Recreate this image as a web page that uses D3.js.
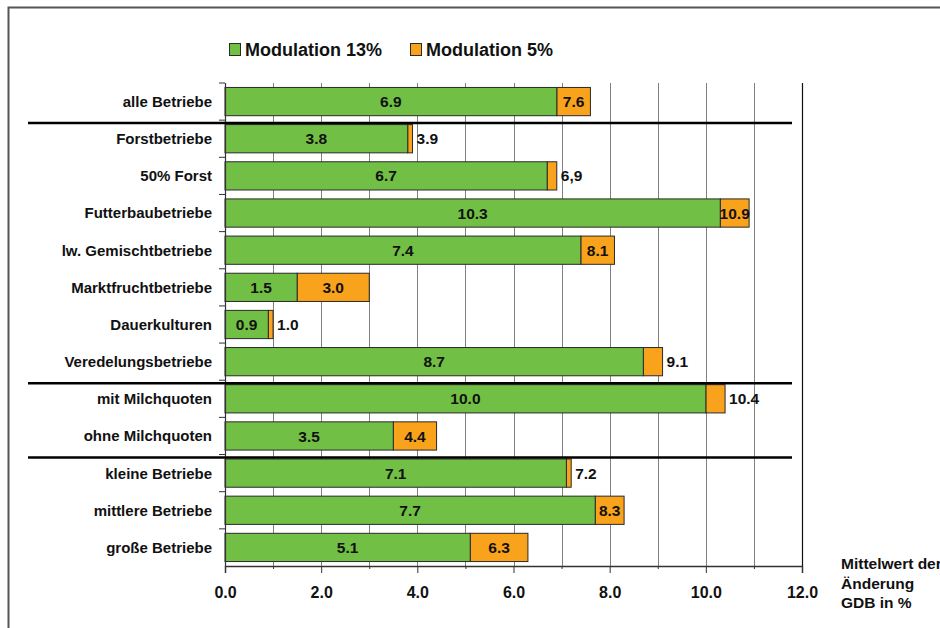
<!DOCTYPE html>
<html>
<head>
<meta charset="utf-8">
<script src="https://cdn.jsdelivr.net/npm/d3@7/dist/d3.min.js"></script>
<style>
  html, body { margin: 0; padding: 0; background: #fff; }
  svg { display: block; font-family: "Liberation Sans", Arial, sans-serif; font-weight: bold; }
</style>
</head>
<body>
<svg id="chart" width="940" height="628"></svg>
<script>
// Betriebsgruppen (top to bottom)
const categories = [
  "alle Betriebe", "Forstbetriebe", "50% Forst", "Futterbaubetriebe",
  "lw. Gemischtbetriebe", "Marktfruchtbetriebe", "Dauerkulturen",
  "Veredelungsbetriebe", "mit Milchquoten", "ohne Milchquoten",
  "kleine Betriebe", "mittlere Betriebe", "große Betriebe"
];
// Mittelwert der Änderung GDB in %, Modulation 13%
const modulation13 = [6.9, 3.8, 6.7, 10.3, 7.4, 1.5, 0.9, 8.7, 10.0, 3.5, 7.1, 7.7, 5.1];
// Mittelwert der Änderung GDB in %, Modulation 5%
const modulation5 = [7.6, 3.9, 6.9, 10.9, 8.1, 3.0, 1.0, 9.1, 10.4, 4.4, 7.2, 8.3, 6.3];
// value labels as printed for the 5% series
const modulation5Labels = ["7.6", "3.9", "6,9", "10.9", "8.1", "3.0", "1.0", "9.1", "10.4", "4.4", "7.2", "8.3", "6.3"];
// group dividers are drawn above these categories
const dividerBefore = ["Forstbetriebe", "mit Milchquoten", "kleine Betriebe"];
// x axis ticks
const xTicks = [0, 2, 4, 6, 8, 10, 12];
const xMinorTicks = [1, 3, 5, 7, 9, 11];
const legendItems = ["Modulation 13%", "Modulation 5%"];
const axisTitle = ["Mittelwert der", "Änderung", "GDB in %"];

const GREEN = "#71bf44", ORANGE = "#f9a21b", EDGE = "#2a2a2a";

const svg = d3.select("#chart");

// outer frame
svg.append("path")
  .attr("d", "M8.5,628 V7.5 H940")
  .attr("fill", "none").attr("stroke", "#555").attr("stroke-width", 2);

const plot = { left: 225, right: 802, top: 83, bottom: 566 };

const x = d3.scaleLinear().domain([0, 12]).range([plot.left, plot.right]);
const y = d3.scaleBand().domain(categories)
  .range([plot.top, plot.bottom]).paddingInner(0.24).paddingOuter(0.12);

// vertical gridlines
svg.append("g").selectAll("line")
  .data(d3.range(1, 12))
  .join("line")
  .attr("x1", d => Math.round(x(d)) + 0.5).attr("x2", d => Math.round(x(d)) + 0.5)
  .attr("y1", plot.top).attr("y2", plot.bottom)
  .attr("stroke", "#808080").attr("stroke-width", 1);

// right plot border at 12.0
svg.append("line")
  .attr("x1", Math.round(x(12)) + 0.5).attr("x2", Math.round(x(12)) + 0.5)
  .attr("y1", plot.top).attr("y2", plot.bottom)
  .attr("stroke", "#111").attr("stroke-width", 1.2);

// bars: green from 0 to 13% value, orange from there to 5% value
const rows = categories.map((c, i) => ({
  cat: c, a: modulation13[i], b: modulation5[i], label: modulation5Labels[i]
}));

const bars = svg.append("g");
bars.selectAll("rect.m5")
  .data(rows).join("rect").attr("class", "m5")
  .attr("x", d => x(d.a)).attr("width", d => x(d.b) - x(d.a))
  .attr("y", d => y(d.cat)).attr("height", y.bandwidth())
  .attr("fill", ORANGE).attr("stroke", EDGE).attr("stroke-width", 1);
bars.selectAll("rect.m13")
  .data(rows).join("rect").attr("class", "m13")
  .attr("x", x(0)).attr("width", d => x(d.a) - x(0))
  .attr("y", d => y(d.cat)).attr("height", y.bandwidth())
  .attr("fill", GREEN).attr("stroke", EDGE).attr("stroke-width", 1);

// value labels
const labels = svg.append("g").attr("font-size", 15.5).attr("fill", "#111");
labels.selectAll("text.v13")
  .data(rows).join("text").attr("class", "v13")
  .attr("x", d => (x(0) + x(d.a)) / 2)
  .attr("y", d => y(d.cat) + y.bandwidth() / 2)
  .attr("dy", "0.36em").attr("text-anchor", "middle")
  .text(d => d3.format(".1f")(d.a));
labels.selectAll("text.v5")
  .data(rows).join("text").attr("class", "v5")
  .attr("x", d => (d.b - d.a) >= 0.5 ? (x(d.a) + x(d.b)) / 2 : x(d.b) + 4)
  .attr("y", d => y(d.cat) + y.bandwidth() / 2)
  .attr("dy", "0.36em")
  .attr("text-anchor", d => (d.b - d.a) >= 0.5 ? "middle" : "start")
  .text(d => d.label);

// left axis with ticks at category boundaries
const yAxisG = svg.append("g");
yAxisG.append("line")
  .attr("x1", plot.left + 0.5).attr("x2", plot.left + 0.5)
  .attr("y1", plot.top).attr("y2", plot.bottom)
  .attr("stroke", "#333").attr("stroke-width", 1.2);
yAxisG.selectAll("line.tick")
  .data(d3.range(0, categories.length))
  .join("line").attr("class", "tick")
  .attr("x1", plot.left - 6).attr("x2", plot.left)
  .attr("y1", i => plot.top + i * y.step()).attr("y2", i => plot.top + i * y.step())
  .attr("stroke", "#333").attr("stroke-width", 1);

// category labels
svg.append("g").attr("font-size", 15).attr("fill", "#111")
  .selectAll("text").data(categories).join("text")
  .attr("x", 212).attr("y", d => y(d) + y.bandwidth() / 2)
  .attr("dy", "0.36em").attr("text-anchor", "end")
  .text(d => d);

// x axis
const xAxis = d3.axisBottom(x).tickValues(xTicks)
  .tickFormat(d3.format(".1f")).tickSize(7).tickPadding(14);
const xg = svg.append("g").attr("transform", `translate(0,${plot.bottom})`).call(xAxis);
xg.select(".domain").attr("stroke", "#333").attr("stroke-width", 1.5);
xg.selectAll(".tick line").attr("stroke", "#333");
xg.selectAll(".tick text")
  .attr("font-size", 16).attr("font-weight", "bold").attr("fill", "#111")
  .attr("font-family", "Liberation Sans, Arial, sans-serif");
const xMinor = d3.axisBottom(x).tickValues(xMinorTicks).tickFormat("").tickSize(3);
const xm = svg.append("g").attr("transform", `translate(0,${plot.bottom})`).call(xMinor);
xm.select(".domain").remove();
xm.selectAll(".tick line").attr("stroke", "#333");

// group dividers
svg.append("g").selectAll("line")
  .data(dividerBefore).join("line")
  .attr("x1", 28).attr("x2", 792)
  .attr("y1", d => y(d) - 1.5).attr("y2", d => y(d) - 1.5)
  .attr("stroke", "#000").attr("stroke-width", 2.5);

// axis title
svg.append("text").attr("font-size", 15.5).attr("fill", "#111")
  .selectAll("tspan").data(axisTitle).join("tspan")
  .attr("x", 841).attr("y", (d, i) => 569 + i * 19.5)
  .text(d => d);

// legend
const legendX = [229, 410];
const legendColors = [GREEN, ORANGE];
const lg = svg.append("g");
lg.selectAll("rect").data(legendItems).join("rect")
  .attr("x", (d, i) => legendX[i] + 0.5).attr("y", 43.5)
  .attr("width", 11).attr("height", 12)
  .attr("fill", (d, i) => legendColors[i]).attr("stroke", EDGE).attr("stroke-width", 1);
lg.selectAll("text").data(legendItems).join("text")
  .attr("x", (d, i) => legendX[i] + 16).attr("y", 56)
  .attr("font-size", 18).attr("fill", "#111")
  .text(d => d);
</script>
</body>
</html>
